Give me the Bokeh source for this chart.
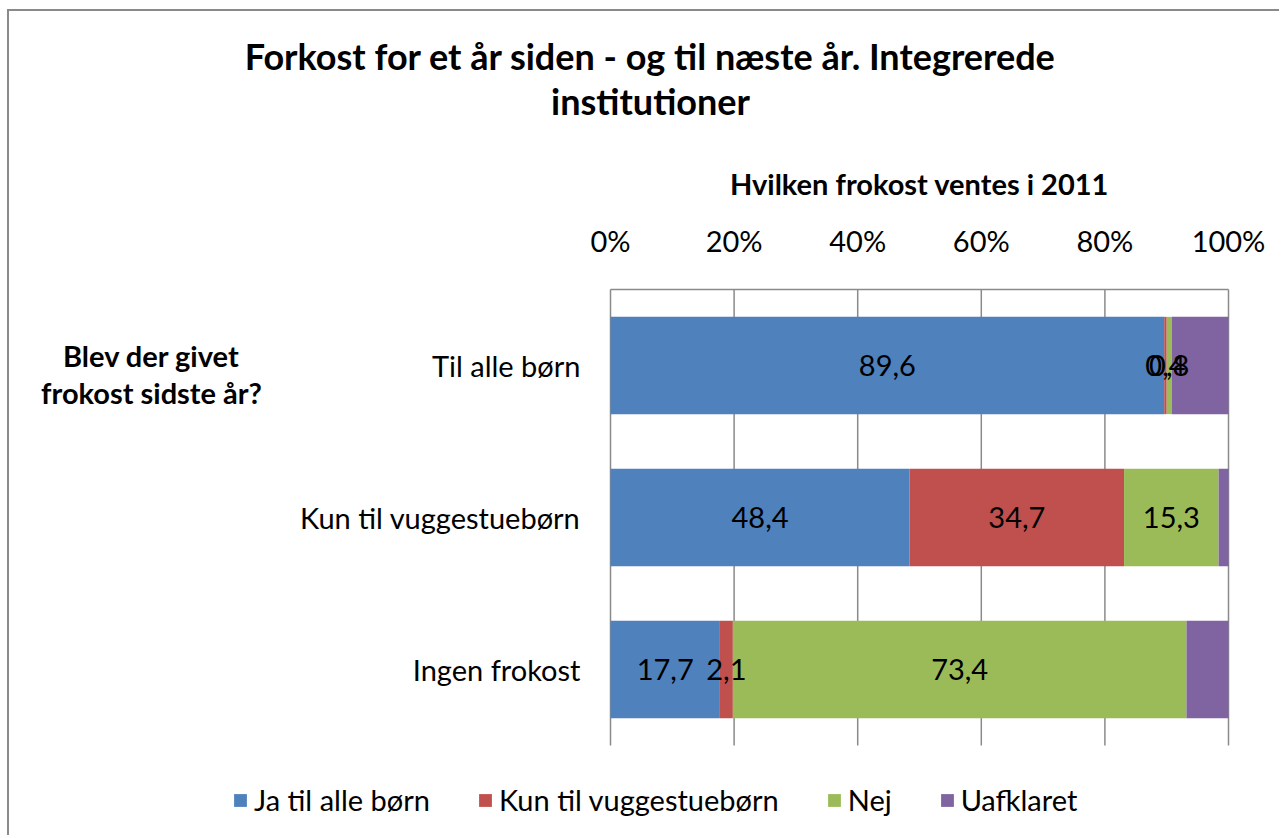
from bokeh.plotting import figure
from bokeh.models import ColumnDataSource, Range1d
from bokeh.embed import file_html
from bokeh.resources import INLINE
from bokeh.core.properties import value

# ---- data ----
categories = ["Til alle børn", "Kun til vuggestuebørn", "Ingen frokost"]
series_names = ["Ja til alle børn", "Kun til vuggestuebørn", "Nej", "Uafklaret"]
ja = [89.6, 48.4, 17.7]
kun = [0.4, 34.7, 2.1]
nej = [0.8, 15.3, 73.4]
uafklaret = [9.2, 1.6, 6.8]
colors = ["#4F81BD", "#C0504D", "#9BBB59", "#8064A2"]
x_ticks = [0, 20, 40, 60, 80, 100]
tick_labels = ["0%", "20%", "40%", "60%", "80%", "100%"]
title_lines = ["Forkost for et år siden - og til næste år. Integrerede", "institutioner"]
x_title = "Hvilken frokost ventes i 2011"
y_title_lines = ["Blev der givet", "frokost sidste år?"]

FONT = "Lato"
NORMAL_SIZE = "29px"
BOLD_SIZE = "29px"
TITLE_SIZE = "36px"
GRID = "#8a8a8a"

# ---- layout (canvas pixels) ----
W, H = 1272, 826
OX, OY = 9, 11                      # canvas origin on the page
PL, PR, PT, PB = 610 - OX, 1228 - OX, 289 - OY, 745 - OY   # plot area
n = len(categories)
sx = 100.0 / (PR - PL)
sy = n / float(PB - PT)
x_start, x_end = -PL * sx, 100 + (W - PR) * sx
y_top, y_bottom = -0.5 - PT * sy, (n - 0.5) + (H - PB) * sy

def dx(px):
    return x_start + (px - OX) * sx

def dy(py):
    return y_top + (py - OY) * sy

p = figure(width=W, height=H,
           x_range=Range1d(x_start, x_end), y_range=Range1d(y_bottom, y_top),
           x_axis_location=None, y_axis_location=None,
           output_backend="svg", toolbar_location=None, min_border=0)
p.title = None
p.grid.visible = False
p.outline_line_color = None
p.background_fill_color = "white"
p.border_fill_color = "white"

ypos = list(range(n))

# gridlines + axis lines (drawn behind bars)
p.segment(x0=x_ticks, y0=[-0.5] * len(x_ticks), x1=x_ticks, y1=[n - 0.5] * len(x_ticks),
          line_color=GRID, line_width=1.5)
p.segment(x0=[x_ticks[0]], y0=[-0.5], x1=[x_ticks[-1]], y1=[-0.5],
          line_color=GRID, line_width=1.5)

src = ColumnDataSource(dict(y=ypos, ja=ja, kun=kun, nej=nej, uaf=uafklaret))
p.hbar_stack(["ja", "kun", "nej", "uaf"], y="y", height=0.64,
             color=colors, line_color=None, source=src,
             legend_label=series_names)

# data labels (not for Uafklaret)
lx, ly, lt = [], [], []
for i in range(n):
    left = 0.0
    for vals in (ja, kun, nej):
        v = vals[i]
        lx.append(left + v / 2.0)
        ly.append(ypos[i])
        lt.append(("%.1f" % v).replace(".", ","))
        left += v

def txt(xs, ys, texts, size, bold=False, align="center"):
    p.text(x=xs, y=ys, text=texts, text_align=align, text_baseline="middle",
           text_font=value(FONT), text_font_size=size,
           text_font_style="bold" if bold else "normal", text_color="black")

txt(lx, ly, lt, NORMAL_SIZE)
# tick labels on top
txt(x_ticks, [dy(240)] * len(x_ticks), tick_labels, NORMAL_SIZE)
# category labels
txt([dx(580)] * n, ypos, categories, NORMAL_SIZE, align="right")
# axis titles
txt([50], [dy(183)], [x_title], BOLD_SIZE, bold=True)
txt([dx(151)] * 2, [dy(355), dy(392)], y_title_lines, BOLD_SIZE, bold=True)
# main title
txt([dx(650)] * 2, [dy(55), dy(100)], title_lines, TITLE_SIZE, bold=True)

lg = p.legend[0]
lg.orientation = "horizontal"
lg.location = (232 - OX, H - (801 - OY) - 16)
lg.border_line_color = None
lg.background_fill_alpha = 0
lg.padding = 0
lg.margin = 0
lg.spacing = 47
lg.glyph_width = 16
lg.glyph_height = 16
lg.label_standoff = 6
lg.label_height = 32
lg.label_text_font = FONT
lg.label_text_font_size = NORMAL_SIZE
lg.label_text_color = "black"
lg.label_text_baseline = "middle"

p.styles = {"margin-left": "7px", "margin-top": "9px",
            "border-left": "2px solid #8a8a8a", "border-top": "2px solid #8a8a8a"}

open("out.html", "w").write(file_html(p, INLINE))
